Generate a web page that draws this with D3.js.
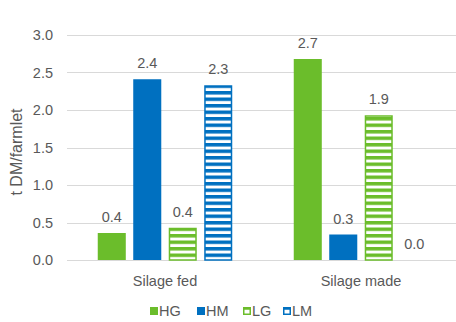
<!DOCTYPE html>
<html>
<head>
<meta charset="utf-8">
<script src="https://cdn.jsdelivr.net/npm/d3@7/dist/d3.min.js"></script>
<style>
  html, body { margin: 0; padding: 0; background: #fff; }
  svg { display: block; font-family: "Liberation Sans", Arial, sans-serif; }
</style>
</head>
<body>
<svg id="chart" width="456" height="322"></svg>
<script>
// Silage fed / made per farmlet (t DM)
const categories = ["Silage fed", "Silage made"];
const seriesNames = ["HG", "HM", "LG", "LM"];
const HG = [0.36, 2.68];
const HM = [2.41, 0.34];
const LG = [0.43, 1.93];
const LM = [2.33, 0.0];
const yTicks = [0, 0.5, 1.0, 1.5, 2.0, 2.5, 3.0];

const seriesValues = { HG, HM, LG, LM };
const green = "#6bbd2b", blue = "#0070c0";
const styles = {
  HG: { color: green, hatch: false },
  HM: { color: blue, hatch: false },
  LG: { color: green, hatch: true },
  LM: { color: blue, hatch: true }
};

const svg = d3.select("#chart");
const textColor = "#595959";
const fs = 14.5;

// stripe patterns for the hatched series
const defs = svg.append("defs");
[["hatch-green", green], ["hatch-blue", blue]].forEach(([id, c]) => {
  const p = defs.append("pattern").attr("id", id)
    .attr("patternUnits", "userSpaceOnUse").attr("width", 8).attr("height", 6.5);
  p.append("rect").attr("width", 8).attr("height", 6.5).attr("fill", "#fff");
  p.append("rect").attr("y", 0).attr("width", 8).attr("height", 3.5).attr("fill", c);
});

const y = d3.scaleLinear().domain([0, 3]).range([260, 35]);
const x0 = d3.scaleBand().domain(categories).range([67, 459]).padding(0);
const x1 = d3.scaleBand().domain(seriesNames)
  .range([(x0.bandwidth() - 134.5) / 2, (x0.bandwidth() + 134.5) / 2])
  .paddingInner(0.21).paddingOuter(0);

// gridlines
svg.append("g").selectAll("line").data(yTicks).join("line")
  .attr("x1", 67).attr("x2", 456)
  .attr("y1", d => Math.round(y(d)) + 0.5).attr("y2", d => Math.round(y(d)) + 0.5)
  .attr("stroke", "#d9d9d9").attr("stroke-width", 1);

// y tick labels
svg.append("g").selectAll("text").data(yTicks).join("text")
  .attr("x", 53).attr("y", d => y(d)).attr("dy", "0.35em")
  .attr("text-anchor", "end").attr("font-size", fs).attr("fill", textColor)
  .text(d => d3.format(".1f")(d));

// y axis title
svg.append("text")
  .attr("transform", "translate(22,152) rotate(-90)")
  .attr("text-anchor", "middle").attr("font-size", 16).attr("fill", textColor)
  .text("t DM/farmlet");

// bars
const groups = svg.append("g").selectAll("g").data(categories).join("g")
  .attr("transform", d => `translate(${x0(d)},0)`);

groups.each(function (cat, ci) {
  const g = d3.select(this);
  seriesNames.forEach(s => {
    const v = seriesValues[s][ci];
    const st = styles[s];
    const bx = x1(s), bw = x1.bandwidth();
    const top = y(v), h = y(0) - y(v);
    if (h > 0) {
      if (st.hatch) {
        g.append("rect")
          .attr("x", bx + 0.75).attr("y", top + 0.75)
          .attr("width", bw - 1.5).attr("height", Math.max(0, h - 0.75))
          .attr("fill", `url(#${st.color === green ? "hatch-green" : "hatch-blue"})`)
          .attr("stroke", st.color).attr("stroke-width", 1.5);
      } else {
        g.append("rect")
          .attr("x", bx).attr("y", top).attr("width", bw).attr("height", h)
          .attr("fill", st.color);
      }
    }
    g.append("text")
      .attr("x", bx + bw / 2).attr("y", top - 11)
      .attr("text-anchor", "middle").attr("font-size", fs).attr("fill", textColor)
      .text(d3.format(".1f")(v));
  });
});

// category labels
svg.append("g").selectAll("text").data(categories).join("text")
  .attr("x", d => x0(d) + x0.bandwidth() / 2).attr("y", 286)
  .attr("text-anchor", "middle").attr("font-size", fs).attr("fill", textColor)
  .text(d => d);

// legend
const legendX = [150, 197, 243, 283];
const legend = svg.append("g").selectAll("g").data(seriesNames).join("g")
  .attr("transform", (d, i) => `translate(${legendX[i]},307)`);
legend.each(function (s) {
  const g = d3.select(this);
  const st = styles[s];
  if (st.hatch) {
    g.append("rect").attr("x", 0.75).attr("y", 0.75).attr("width", 6.5).attr("height", 6.5)
      .attr("fill", "#fff").attr("stroke", st.color).attr("stroke-width", 1.5);
    g.append("rect").attr("x", 0.75).attr("y", 0.75).attr("width", 6.5).attr("height", 2)
      .attr("fill", st.color);
  } else {
    g.append("rect").attr("width", 8).attr("height", 8).attr("fill", st.color);
  }
  g.append("text").attr("x", 9).attr("y", 4).attr("dy", "0.35em")
    .attr("font-size", fs).attr("fill", textColor).text(s);
});
</script>
</body>
</html>
